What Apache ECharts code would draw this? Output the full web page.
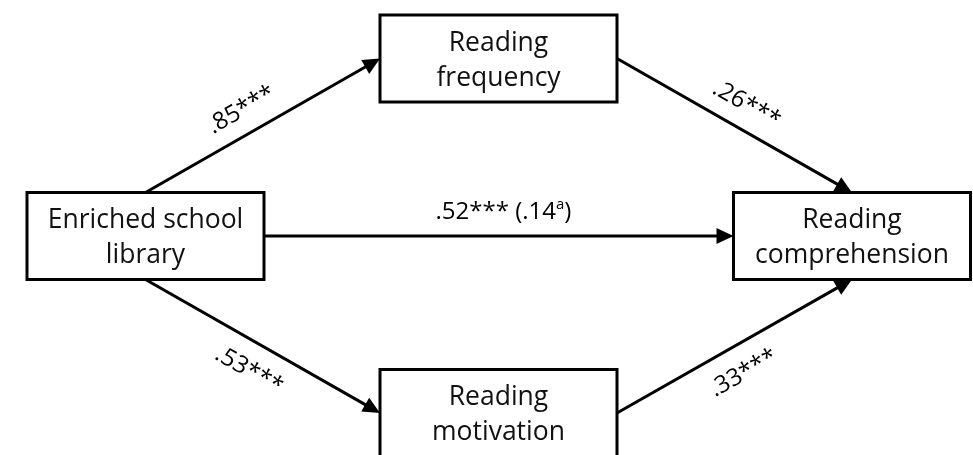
<!DOCTYPE html>
<html>
<head>
<meta charset="utf-8">
<script src="https://cdn.jsdelivr.net/npm/echarts@6/dist/echarts.min.js"></script>
<style>
  html, body { margin: 0; padding: 0; background: #ffffff; }
  #chart { width: 973px; height: 455px; }
</style>
</head>
<body>
<div id="chart"></div>
<script>
// ---- Diagram data ----
const nodeNames = ['Enriched school\nlibrary', 'Reading\nfrequency', 'Reading\nmotivation', 'Reading\ncomprehension'];
const nodeX = [145.5, 498.5, 498.5, 852];
const nodeY = [236, 58.5, 413, 236];

const edgeFrom = [0, 1, 0, 0, 2];
const edgeTo = [1, 3, 3, 2, 3];
const edgeFromSide = ['top', 'right', 'right', 'bottom', 'right'];
const edgeToSide = ['left', 'top', 'left', 'left', 'bottom'];
const edgeLabels = ['.85***', '.26***', '.52*** (.14{sup|a})', '.53***', '.33***'];
const edgeLabelSide = ['above', 'above', 'above', 'below', 'below'];

// ---- Styles ----
const BOX_W = 237, BOX_H = 87;
const FONT = '"Open Sans", "Noto Sans", sans-serif';
const ARROW_L = 17, ARROW_W = 16;
const LABEL_POS = [0.46, 0.5, 0.51, 0.5, 0.48];

function anchor(i, side) {
  const x = nodeX[i], y = nodeY[i];
  if (side === 'top') return [x, y - BOX_H / 2];
  if (side === 'bottom') return [x, y + BOX_H / 2];
  if (side === 'left') return [x - BOX_W / 2, y];
  return [x + BOX_W / 2, y];
}

const chart = echarts.init(document.getElementById('chart'), null, { renderer: 'canvas' });

const option = {
  backgroundColor: '#ffffff',
  animation: false,
  grid: { left: 0, right: 0, top: 0, bottom: 0 },
  xAxis: { type: 'value', min: 0, max: 973, show: false },
  yAxis: { type: 'value', min: 0, max: 455, inverse: true, show: false },
  series: [
    {
      type: 'custom',
      coordinateSystem: 'cartesian2d',
      clip: false,
      z: 1,
      data: edgeFrom.map((f, i) => [i]),
      renderItem: function (params, api) {
        const i = api.value(0);
        const p0 = api.coord(anchor(edgeFrom[i], edgeFromSide[i]));
        const p1 = api.coord(anchor(edgeTo[i], edgeToSide[i]));
        const dx = p1[0] - p0[0], dy = p1[1] - p0[1];
        const len = Math.sqrt(dx * dx + dy * dy);
        const ux = dx / len, uy = dy / len;
        const nx = -uy, ny = ux;
        const bx = p1[0] - ux * ARROW_L, by = p1[1] - uy * ARROW_L;
        let upx = nx, upy = ny;
        if (upy > 0 || (upy === 0 && upx > 0)) { upx = -nx; upy = -ny; }
        const off = edgeLabelSide[i] === 'above' ? 24 : -28;
        const t = LABEL_POS[i];
        const mx = p0[0] + dx * t + upx * off;
        const my = p0[1] + dy * t + upy * off;
        const rot = -Math.atan2(dy, dx);
        return {
          type: 'group',
          children: [
            {
              type: 'line',
              shape: { x1: p0[0], y1: p0[1], x2: bx + ux * 1, y2: by + uy * 1 },
              style: { stroke: '#000', lineWidth: 3 }
            },
            {
              type: 'polygon',
              shape: { points: [[p1[0], p1[1]], [bx + nx * ARROW_W / 2, by + ny * ARROW_W / 2], [bx - nx * ARROW_W / 2, by - ny * ARROW_W / 2]] },
              style: { fill: '#000' }
            },
            {
              type: 'text',
              x: mx, y: my,
              rotation: rot,
              style: {
                text: edgeLabels[i],
                x: 0, y: 0,
                align: 'center', verticalAlign: 'middle',
                fill: '#000',
                fontSize: 24,
                fontFamily: FONT,
                rich: {
                  sup: { fontSize: 15, fontFamily: FONT, verticalAlign: 'top', fill: '#000', lineHeight: 30 }
                }
              }
            }
          ]
        };
      }
    },
    {
      type: 'custom',
      coordinateSystem: 'cartesian2d',
      clip: false,
      z: 2,
      data: nodeNames.map((n, i) => [nodeX[i], nodeY[i], i]),
      renderItem: function (params, api) {
        const i = api.value(2);
        const c = api.coord([api.value(0), api.value(1)]);
        const tl = api.coord([api.value(0) - BOX_W / 2, api.value(1) - BOX_H / 2]);
        const br = api.coord([api.value(0) + BOX_W / 2, api.value(1) + BOX_H / 2]);
        return {
          type: 'group',
          children: [
            {
              type: 'rect',
              shape: { x: tl[0], y: tl[1], width: br[0] - tl[0], height: br[1] - tl[1] },
              style: { fill: '#fff', stroke: '#000', lineWidth: 3 }
            },
            {
              type: 'text',
              x: c[0], y: c[1] + 2,
              style: {
                text: nodeNames[i],
                align: 'center', verticalAlign: 'middle',
                fill: '#111',
                fontSize: 26.5,
                fontFamily: FONT,
                lineHeight: 35
              }
            }
          ]
        };
      }
    }
  ]
};
chart.setOption(option);
</script>
</body>
</html>
